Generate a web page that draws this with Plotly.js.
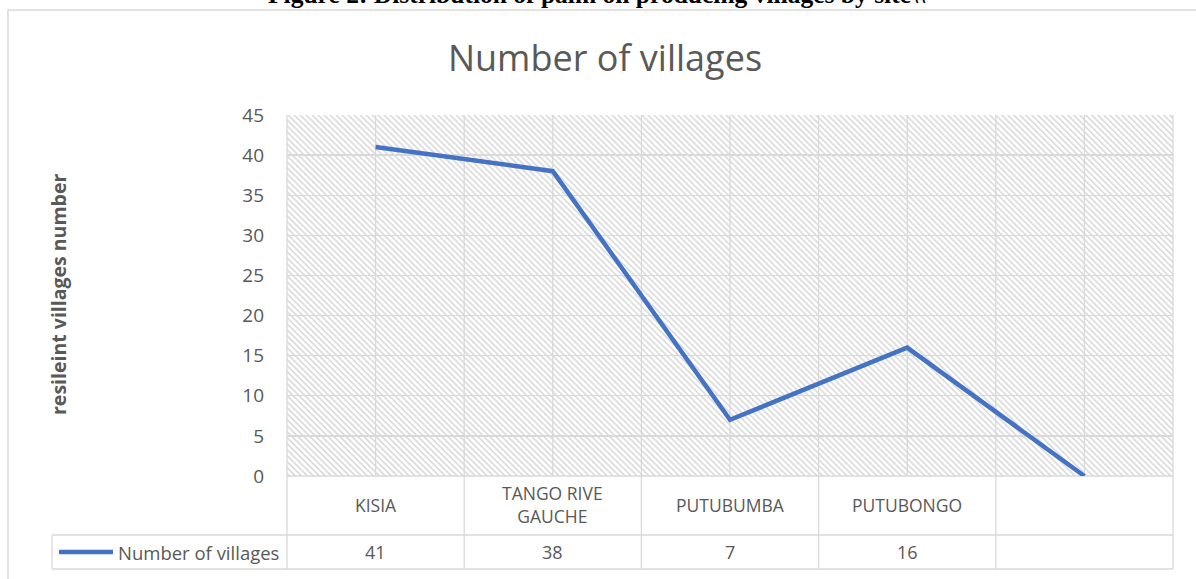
<!DOCTYPE html>
<html><head><meta charset="utf-8">
<script src="https://cdn.plot.ly/plotly-3.0.1.min.js"></script>
<style>html,body{margin:0;padding:0;background:#fff}#chart{width:1196px;height:579px}</style>
</head><body><div id="chart"></div>
<script>
// ---- data ----
const categories = ["KISIA", "TANGO RIVE GAUCHE", "PUTUBUMBA", "PUTUBONGO", ""];
const categoryLabels = ["KISIA", "TANGO RIVE<br>GAUCHE", "PUTUBUMBA", "PUTUBONGO", ""];
const villages = [41, 38, 7, 16, null];   // last cell empty, plotted as zero
const seriesName = "Number of villages";
const yTicks = [0, 5, 10, 15, 20, 25, 30, 35, 40, 45];
const chartTitle = "Number of villages";
const yAxisTitle = "resileint villages number";
const figureCaption = "Figure 2: Distribution of palm oil producing villages by site\\\\";

// ---- geometry helpers (pixel -> paper) ----
const W = 1196, H = 579, L = 287, R = 1173, T = 115, B = 476;
const px = X => (X - L) / (R - L);
const py = Y => (B - Y) / (B - T);
const N = categories.length;
const GRID = '#d9d9d9', TXT = '#595959', BLUE = '#4472C4';
const FONT = 'Open Sans, Lato, sans-serif';

// hatch background
const pw = R - L, ph = B - T;
const svg = `<svg xmlns="http://www.w3.org/2000/svg" width="${pw}" height="${ph}" viewBox="0 0 ${pw} ${ph}" preserveAspectRatio="none">
<defs><pattern id="h" patternUnits="userSpaceOnUse" width="4.24" height="4.24" patternTransform="rotate(-45)">
<rect width="4.24" height="4.24" fill="#ffffff"/><rect x="0" y="0" width="1.7" height="4.24" fill="#dcdcdc"/></pattern></defs>
<rect width="${pw}" height="${ph}" fill="url(#h)"/></svg>`;
const hatchSrc = 'data:image/svg+xml;base64,' + btoa(svg);

const shapes = [];
const line = (x0, y0, x1, y1, color, width) => shapes.push({
  type: 'line', xref: 'paper', yref: 'paper', x0, y0, x1, y1, layer: 'below',
  line: { color: color || GRID, width: width || 1.3 }
});
// chart border
shapes.push({ type: 'rect', xref: 'paper', yref: 'paper', x0: px(8), y0: py(10), x1: px(1210), y1: py(600),
  line: { color: GRID, width: 1.5 }, layer: 'below' });
// vertical grid lines at category centres and boundaries (boundaries continue into the data table)
for (let k = 0; k <= 2 * N; k++) {
  const xf = k / (2 * N);
  line(xf, k % 2 === 0 ? py(569) : 0, xf, 1);
}
// table horizontal lines
line(0, 0, 1, 0);
line(px(52), py(535), 1, py(535));
line(px(52), py(569), 1, py(569));
line(px(52), py(535), px(52), py(569));
// legend key
line(px(59), py(552), px(113), py(552), BLUE, 4.5);

const annotations = [];
categories.forEach((c, i) => {
  annotations.push({ xref: 'x', yref: 'paper', x: i, y: py(505), yanchor: 'middle', showarrow: false,
    text: categoryLabels[i], font: { family: FONT, size: 17.5, color: TXT } });
  annotations.push({ xref: 'x', yref: 'paper', x: i, y: py(552), yanchor: 'middle', showarrow: false,
    text: villages[i] == null ? '' : String(villages[i]), font: { family: FONT, size: 18, color: TXT } });
});
annotations.push({ xref: 'paper', yref: 'paper', x: px(116), xanchor: 'left', y: py(552), yanchor: 'middle',
  showarrow: false, text: seriesName, font: { family: FONT, size: 18.5, color: TXT } });
annotations.push({ xref: 'paper', yref: 'paper', x: px(58), xanchor: 'center', y: py(295), yanchor: 'middle',
  textangle: -90, showarrow: false,
  text: '<b>' + yAxisTitle + '</b>', font: { family: FONT, size: 19.5, color: TXT } });
annotations.push({ xref: 'paper', yref: 'paper', x: px(597), xanchor: 'center', y: py(11), yanchor: 'bottom', showarrow: false,
  text: '<b>' + figureCaption + '</b>', font: { family: 'Liberation Serif, Times New Roman, serif', size: 25.5, color: '#000' } });

const trace = {
  type: 'scatter', mode: 'lines', name: seriesName,
  x: categories.map((c, i) => i),
  y: villages.map(v => v == null ? 0 : v),
  line: { color: BLUE, width: 4.5 },
  hoverinfo: 'skip'
};

const layout = {
  width: W, height: H,
  margin: { l: L, r: W - R, t: T, b: H - B, pad: 0 },
  paper_bgcolor: '#ffffff', plot_bgcolor: 'rgba(0,0,0,0)',
  showlegend: false,
  title: { text: chartTitle, font: { family: FONT, size: 36, color: TXT },
    xref: 'container', x: 605 / W, xanchor: 'center', yref: 'container', y: 1 - 58 / H, yanchor: 'middle' },
  xaxis: { range: [-0.5, N - 0.5], showgrid: false, zeroline: false, showline: false, showticklabels: false, fixedrange: true },
  yaxis: { range: [0, 45], tickmode: 'array', tickvals: yTicks, showgrid: true, gridcolor: GRID, gridwidth: 1.3,
    zeroline: false, showline: false, ticks: '', ticklabelstandoff: 22,
    tickfont: { family: FONT, size: 19, color: TXT }, fixedrange: true },
  images: [{ source: hatchSrc, xref: 'paper', yref: 'paper', x: 0, y: 1, sizex: 1, sizey: 1,
    xanchor: 'left', yanchor: 'top', sizing: 'stretch', layer: 'below' }],
  shapes, annotations
};

Plotly.newPlot('chart', [trace], layout, { displayModeBar: false, staticPlot: true });
</script></body></html>
